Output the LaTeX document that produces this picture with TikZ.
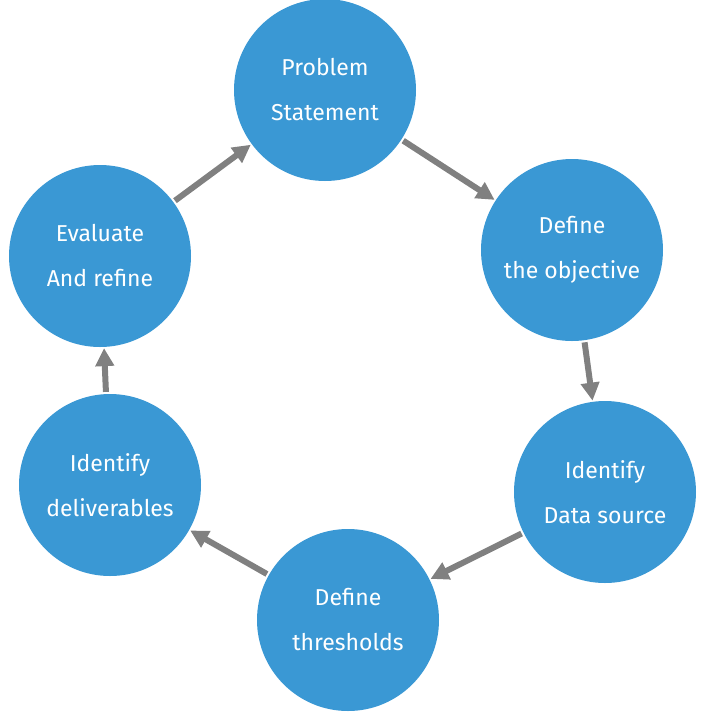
\documentclass[tikz,border=0pt]{standalone}
\usepackage{fontspec}
\setmainfont{Fira Sans}
\usetikzlibrary{arrows.meta}

\begin{document}
\begin{tikzpicture}[x=1pt,y=-1pt]
        \tikzstyle{stage} = [circle, minimum size=182pt, inner sep=0pt, fill={rgb,255:red,58;green,152;blue,212},
                                text=white, align=center, font=\fontsize{23}{45}\selectfont]
        \tikzstyle{arr}  = [-{Triangle[length=18pt,width=18pt]}, line width=6pt,
                                draw={rgb,255:red,128;green,128;blue,128}, shorten <=2pt, shorten >=1pt]

        \useasboundingbox (0,0) rectangle (703,724);

        \node(problem)  [stage] at (325,90)  {Problem\\Statement};
        \node(objective)[stage] at (572,250) {Define\\the objective};
        \node(source)   [stage] at (605,492) {Identify\\Data source};
        \node(thresh)   [stage] at (348,620) {Define\\thresholds};
        \node(deliver)  [stage] at (110,485) {Identify\\deliverables};
        \node(evaluate) [stage] at (100,256) {Evaluate\\And refine};

        \draw[arr] (problem) -- (objective);
        \draw[arr] (objective) -- (source);
        \draw[arr] (source) -- (thresh);
        \draw[arr] (thresh) -- (deliver);
        \draw[arr] (deliver) -- (evaluate);
        \draw[arr] (evaluate) -- (problem);
      \end{tikzpicture}
\end{document}
